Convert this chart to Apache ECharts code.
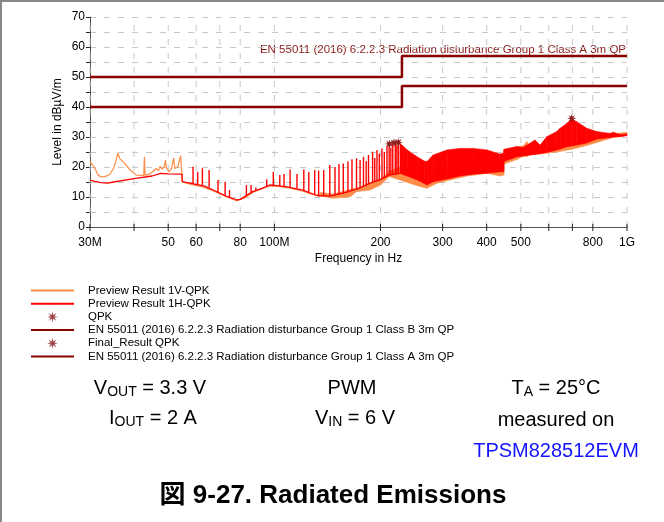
<!DOCTYPE html>
<html><head><meta charset="utf-8">
<script src="https://cdn.jsdelivr.net/npm/echarts@6/dist/echarts.min.js"></script>
<style>html,body{margin:0;padding:0;background:#fff;}#c{width:664px;height:522px;}</style>
</head><body><div id="c"></div>
<script>
// ---- data (frequency in MHz, level in dBµV/m) ----
const xTickFreqs  = [30, 40, 50, 60, 70, 80, 100, 200, 300, 400, 500, 600, 700, 800, 1000];
const xTickLabels = ['30M', '', '50', '60', '', '80', '100M', '200', '300', '400', '500', '', '', '800', '1G'];

// Preview Result 1V-QPK (orange): low-frequency trace and high-frequency band [f, low, high]
const v1Trace = [[30,21.8],[31,19.5],[31.6,17.3],[32.3,16.7],[33,16.8],[34.1,17.4],[35,19.6],[35.6,22.3],[36,24.6],[36.4,22.9],[37.6,21.2],[39,19],[40.6,17.3],[42.6,17.2],[42.8,23.4],[43,17.2],[44.4,17.8],[45.3,18.5],[46.2,19.5],[46.9,18.8],[47.4,20.2],[48,19.3],[48.7,20],[49.1,22.3],[49.4,19.8],[50.2,18.4],[51.1,19.5],[51.8,23],[52.2,19.5],[53.2,20],[54.2,23.7],[54.6,18.5],[54.8,15],[58,14.2],[63,13.3],[68,11.8],[73,10.2],[78,8.8],[82,9.6],[87,11.6],[92,12.8],[97,13.7],[103,13.5],[110,13],[120,12],[127,11],[134.8,10.3]];
const v1Band = [[134.8,10.3,11.5],[147,9.6,11],[164,10.1,12.5],[171,11.8,13],[186.7,12.3,14.6],[200,14,16],[211.6,16.8,18.5],[227,15.7,20],[242,14.6,20],[259,13.5,18],[271,12.9,17],[289,14.6,18],[315,15.7,20],[352,17,21],[401,17.9,22],[436,17,22],[447,17.3,22],[448,21,25],[487,22.5,26.8],[507,23.5,27],[520,23.5,28.4],[530,24,27],[541,24.2,26],[632,25,27],[697,25.9,28],[720,26.3,28],[785,27.5,29],[913,29.8,31],[1000,30.5,31.6]];

// Preview Result 1H-QPK (red): baseline, spikes [f, base, peak], dense band [f, low, high]
const h1Trace = [[30,15.6],[31,15.2],[32.2,14.8],[33.7,14.6],[35,15],[40,16.1],[45,17],[47.6,17.9],[50,17.7],[54.7,17.6],[54.8,15.1],[57.6,14.6],[63.4,13.6],[68,12],[72.9,10.3],[78.3,9],[80,9.2],[86.8,11.8],[92,12.8],[97,14],[101.7,13.8],[108.5,13.4],[120.4,12.3],[132,10.5],[143.6,10.3],[160.4,11.6],[175,13],[186.7,14.6],[200,15.8],[211.6,17.3],[227,17.9]];
const h1Spikes = [[58.8,14.5,20.1],[60.6,14.2,18.4],[62.5,13.8,19.6],[65.3,13.2,19],[69.2,11.6,15.7],[72.5,10.5,15.1],[74.6,9.8,12.3],[83.3,10.6,14],[85.9,11.5,14],[88.6,12,13.2],[95.1,13.6,15.9],[99.3,13.9,18.4],[103.6,13.7,17.3],[106.5,13.5,17.7],[110.8,13.3,19.2],[115.9,12.8,17.7],[121.2,12.2,19.2],[125.2,11.6,18.3],[130.1,10.8,19],[133.5,10.5,18.8],[138,10.4,19],[143.6,10.3,20.7],[148.6,10.5,20],[152.5,10.8,21],[156.8,11,21.2],[161.7,11.6,21.8],[166,12.2,22.6],[171,12.6,22.9],[175,13,22.3],[178.9,13.5,23.4],[182.1,14,22],[184.9,14.2,24],[189.9,14.8,25.1],[192.6,15,23],[195.4,15.3,25.7],[198.4,15.6,24.5],[201.9,16,26.2],[205,16.4,25],[208.6,16.9,27],[211.6,17.3,27.9],[214,17.4,26.5],[216.6,17.5,27.5],[220.2,17.6,28.5],[222.5,17.7,27.2],[224.6,17.8,29]];
const h1Band = [[227,17.9,27.9],[231.7,17.5,27],[238,17,25.7],[254,15.7,23.4],[266,14.5,22],[271,14,21.8],[282,15.1,24],[309,16,25.7],[336,17,26.2],[366,17.6,26.2],[401,17.9,25.7],[436,18.4,24.3],[447,18.4,24.6],[448,21.8,25.9],[487,23.4,26.8],[507,23.7,26.5],[531,24,27.9],[548,24.2,29],[567,24.4,27.3],[592,24.8,30.1],[632,25.7,31.8],[646,26,32.9],[675,26.8,34.5],[697,27,36],[720,27.3,35.1],[769,28,32.9],[821,29.3,31.8],[895,29.8,31.2],[915,30,31.6],[956,30.1,30.8],[1000,30.5,31]];

// Limits
const limitFreqs = [30, 230, 230, 1000];
const classBLimit = [40, 40, 47, 47];
const classALimit = [50, 50, 57, 57];

// Peaks
const qpkPoints   = [[211.9,27.7],[218.4,28.1],[224.6,28.2],[697,36.2]];
const finalPoints = [[211.9,27.7],[218.4,28.1],[224.6,28.2],[697,36.2]];

const NAME_V = 'Preview Result 1V-QPK';
const NAME_H = 'Preview Result 1H-QPK';
const NAME_B = 'EN 55011 (2016) 6.2.2.3 Radiation disturbance Group 1 Class B 3m QP';
const NAME_A = 'EN 55011 (2016) 6.2.2.3 Radiation disturbance Group 1 Class A 3m QP';

const ORANGE = '#FF8C46', RED = '#FF0000', DARK = '#8B0000', STAR = '#8B1A1A';
const FONT = '"Liberation Sans", Arial, sans-serif';
const STAR_PATH = 'path://M5,0L5.7,3.3L8.5,1.5L6.7,4.3L10,5L6.7,5.7L8.5,8.5L5.7,6.7L5,10L4.3,6.7L1.5,8.5L3.3,5.7L0,5L3.3,4.3L1.5,1.5L4.3,3.3Z';

function bandItem(arr, color) {
  return function (params, api) {
    const i = params.dataIndex;
    if (i >= arr.length - 1) return null;
    const a = arr[i], b = arr[i + 1];
    return {
      type: 'polygon',
      shape: { points: [api.coord([a[0], a[1]]), api.coord([a[0], a[2]]), api.coord([b[0], b[2]]), api.coord([b[0], b[1]])] },
      style: { fill: color, stroke: color, lineWidth: 0.6 }
    };
  };
}
const sub = { a: { fontSize: 20, fontFamily: FONT, fill: '#000' }, b: { fontSize: 14, fontFamily: FONT, fill: '#000', padding: [9, 0, 0, 0] } };
const lineOnly = { opacity: 0 };

const chart = echarts.init(document.getElementById('c'), null, { renderer: 'canvas' });
chart.setOption({
  animation: false,
  backgroundColor: '#fff',
  grid: { left: 90, right: 37, top: 17, bottom: 295, containLabel: false },
  xAxis: {
    type: 'log', logBase: 10, min: 30, max: 1000,
    name: 'Frequency in Hz', nameLocation: 'middle', nameGap: 26,
    nameTextStyle: { fontFamily: FONT, fontSize: 12, color: '#000' },
    axisLine: { show: true, lineStyle: { color: '#555', width: 1 } },
    axisTick: { show: false }, axisLabel: { show: false }, splitLine: { show: false }, minorTick: { show: false }
  },
  yAxis: {
    type: 'value', min: 0, max: 70, interval: 5,
    name: 'Level in dBµV/m', nameLocation: 'middle', nameGap: 26, nameMoveOverlap: false,
    nameTextStyle: { fontFamily: FONT, fontSize: 12, color: '#000' },
    axisLine: { show: true, lineStyle: { color: '#555', width: 1 } },
    axisTick: { show: true, length: 4, lineStyle: { color: '#222' } },
    axisLabel: { fontFamily: FONT, fontSize: 12, color: '#000', margin: 5, formatter: v => (v % 10 === 0 ? String(v) : '') },
    splitLine: { show: true, lineStyle: { color: '#c8c8c8', type: [6, 8], width: 1 } }
  },
  legend: {
    orient: 'vertical', left: 30, top: 284.5, padding: 0, itemWidth: 43, itemHeight: 11, itemGap: 1.2,
    selectedMode: false,
    textStyle: { fontFamily: FONT, fontSize: 11.5, color: '#000', padding: [0, 0, 0, 9] },
    data: [
      { name: NAME_V, itemStyle: lineOnly },
      { name: NAME_H, itemStyle: lineOnly },
      { name: 'QPK' },
      { name: NAME_B, itemStyle: lineOnly },
      { name: 'Final_Result QPK' },
      { name: NAME_A, itemStyle: lineOnly }
    ]
  },
  series: [
    { type: 'custom', silent: true, z: 1, data: xTickFreqs.map((f, i) => [f, i]), encode: { x: 0 },
      renderItem: (params, api) => {
        const f = api.value(0);
        const p0 = api.coord([f, 0]), p1 = api.coord([f, 70]);
        return { type: 'line', shape: { x1: p0[0], y1: p0[1], x2: p1[0], y2: p1[1] }, style: { stroke: '#c8c8c8', lineWidth: 1, lineDash: [6, 8] } };
      } },
    { name: NAME_V, type: 'line', symbol: 'none', data: v1Trace, lineStyle: { color: ORANGE, width: 1.2 }, itemStyle: { color: ORANGE } },
    { name: NAME_V, type: 'custom', data: v1Band, encode: { x: 0, y: [1, 2] }, renderItem: bandItem(v1Band, ORANGE), itemStyle: { color: ORANGE } },
    { name: NAME_H, type: 'line', symbol: 'none', data: h1Trace, lineStyle: { color: RED, width: 1.3 }, itemStyle: { color: RED } },
    { name: NAME_H, type: 'custom', data: h1Spikes, encode: { x: 0, y: [1, 2] }, itemStyle: { color: RED },
      renderItem: (params, api) => {
        const f = api.value(0);
        const a = api.coord([f, api.value(1)]), b = api.coord([f, api.value(2)]);
        return { type: 'line', shape: { x1: a[0], y1: a[1], x2: b[0], y2: b[1] }, style: { stroke: RED, lineWidth: 1.4 } };
      } },
    { name: NAME_H, type: 'custom', data: h1Band, encode: { x: 0, y: [1, 2] }, renderItem: bandItem(h1Band, RED), itemStyle: { color: RED } },
    { name: NAME_B, type: 'line', symbol: 'none', data: limitFreqs.map((f, i) => [f, classBLimit[i]]), lineStyle: { color: DARK, width: 2.5 }, itemStyle: { color: DARK } },
    { name: NAME_A, type: 'line', symbol: 'none', data: limitFreqs.map((f, i) => [f, classALimit[i]]), lineStyle: { color: DARK, width: 2.5 }, itemStyle: { color: DARK } },
    { name: 'QPK', type: 'scatter', symbol: STAR_PATH, symbolSize: 9, data: qpkPoints, itemStyle: { color: STAR } },
    { name: 'Final_Result QPK', type: 'scatter', symbol: STAR_PATH, symbolSize: 9, data: finalPoints, itemStyle: { color: STAR } },
    { type: 'custom', silent: true, z: 5, data: xTickFreqs.map((f, i) => [f, i]), encode: { x: 0 },
      renderItem: (params, api) => {
        const f = api.value(0), i = api.value(1);
        const p = api.coord([f, 0]);
        return { type: 'group', children: [
          { type: 'line', shape: { x1: p[0], y1: p[1] - 3, x2: p[0], y2: p[1] + 4 }, style: { stroke: '#222', lineWidth: 1 } },
          { type: 'text', x: p[0], y: p[1] + 16, style: { text: xTickLabels[i], align: 'center', verticalAlign: 'middle', font: '12px ' + FONT, fill: '#000' } }
        ] };
      } }
  ],
  graphic: [
    { type: 'line', shape: { x1: 0, y1: 1, x2: 664, y2: 1 }, style: { stroke: '#888', lineWidth: 2 } },
    { type: 'line', shape: { x1: 1, y1: 0, x2: 1, y2: 522 }, style: { stroke: '#888', lineWidth: 2 } },
    { type: 'text', x: 626, y: 50, style: { text: NAME_A, align: 'right', verticalAlign: 'middle', font: '11.5px ' + FONT, fill: '#8B1A1A' } },
    { type: 'text', x: 150, y: 388, style: { text: '{a|V}{b|OUT}{a| = 3.3 V}', align: 'center', verticalAlign: 'middle', rich: sub } },
    { type: 'text', x: 153, y: 418, style: { text: '{a|I}{b|OUT}{a| = 2 A}', align: 'center', verticalAlign: 'middle', rich: sub } },
    { type: 'text', x: 352, y: 388, style: { text: 'PWM', align: 'center', verticalAlign: 'middle', font: '20px ' + FONT, fill: '#000' } },
    { type: 'text', x: 355, y: 418, style: { text: '{a|V}{b|IN}{a| = 6 V}', align: 'center', verticalAlign: 'middle', rich: sub } },
    { type: 'text', x: 556, y: 388, style: { text: '{a|T}{b|A}{a| = 25°C}', align: 'center', verticalAlign: 'middle', rich: sub } },
    { type: 'text', x: 556, y: 420, style: { text: 'measured on', align: 'center', verticalAlign: 'middle', font: '20px ' + FONT, fill: '#000' } },
    { type: 'text', x: 556, y: 451, style: { text: 'TPSM828512EVM', align: 'center', verticalAlign: 'middle', font: '20px ' + FONT, fill: '#1414FF' } },
    { type: 'text', x: 333, y: 496, style: { text: '図 9-27. Radiated Emissions', align: 'center', verticalAlign: 'middle', font: 'bold 26px "Liberation Sans", "Noto Sans CJK JP", sans-serif', fill: '#000' } }
  ]
});
</script></body></html>
